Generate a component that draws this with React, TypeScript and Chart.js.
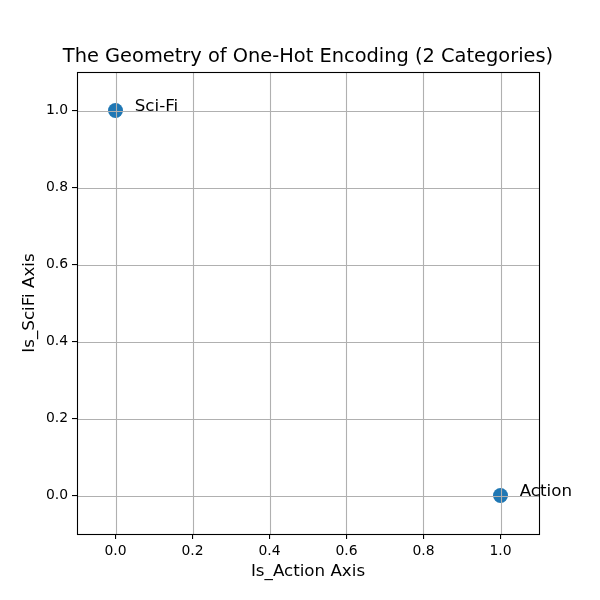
import React, { useEffect, useRef } from "react";
import { Chart, registerables } from "chart.js";

Chart.register(...registerables);

const labels = ["Action", "Sci-Fi"];
const isAction = [1, 0];
const isSciFi = [0, 1];
const labelOffsetX = [0.05, 0.05];
const tickValues = [0, 0.2, 0.4, 0.6, 0.8, 1.0];
const titleText = "The Geometry of One-Hot Encoding (2 Categories)";
const xTitle = "Is_Action Axis";
const yTitle = "Is_SciFi Axis";

const FONT = "'DejaVu Sans', sans-serif";

const overlay = {
  id: "overlay",
  afterDatasetsDraw(chart: any) {
    const { ctx, chartArea: a, scales } = chart;
    const xs = scales.x, ys = scales.y;
    ctx.save();
    // grid on top of markers (matplotlib style)
    ctx.strokeStyle = "#b0b0b0";
    ctx.lineWidth = 1.1;
    for (const v of tickValues) {
      const px = Math.round(xs.getPixelForValue(v)) + 0.5;
      ctx.beginPath(); ctx.moveTo(px, a.top); ctx.lineTo(px, a.bottom); ctx.stroke();
      const py = Math.round(ys.getPixelForValue(v)) + 0.5;
      ctx.beginPath(); ctx.moveTo(a.left, py); ctx.lineTo(a.right, py); ctx.stroke();
    }
    // frame
    ctx.strokeStyle = "#000";
    ctx.lineWidth = 1.1;
    ctx.strokeRect(Math.round(a.left) + 0.5, Math.round(a.top) + 0.5, Math.round(a.right - a.left), Math.round(a.bottom - a.top));
    // annotations
    ctx.fillStyle = "#000";
    ctx.font = `16.7px ${FONT}`;
    ctx.textAlign = "left";
    ctx.textBaseline = "alphabetic";
    labels.forEach((l, i) => {
      ctx.fillText(l, xs.getPixelForValue(isAction[i] + labelOffsetX[i]), ys.getPixelForValue(isSciFi[i]));
    });
    // title
    ctx.textAlign = "center";
    ctx.textBaseline = "middle";
    ctx.font = `19.4px ${FONT}`;
    ctx.fillText(titleText, (a.left + a.right) / 2, 57);
    // axis titles
    ctx.font = `16.7px ${FONT}`;
    ctx.fillText(xTitle, (a.left + a.right) / 2, 572);
    ctx.translate(30, (a.top + a.bottom) / 2);
    ctx.rotate(-Math.PI / 2);
    ctx.fillText(yTitle, 0, 0);
    ctx.restore();
  },
};

const axisOpts = (size: string) => ({
  type: "linear" as const,
  min: -0.1,
  max: 1.1,
  afterFit: (s: any) => { s[size] = size === "height" ? 66 : 77; },
  afterBuildTicks: (s: any) => { s.ticks = tickValues.map((v) => ({ value: v })); },
  grid: { color: "rgba(0,0,0,0)", lineWidth: 1.1, tickColor: "#000", tickLength: 5, drawTicks: true },
  border: { display: false },
  ticks: {
    includeBounds: false,
    padding: 4,
    color: "#000",
    font: { family: FONT, size: 13.9 },
    callback: (v: any) => Number(v).toFixed(1),
  },
});

export default function App() {
  const ref = useRef<HTMLCanvasElement>(null);
  useEffect(() => {
    document.body.style.margin = "0";
    const chart = new Chart(ref.current!, {
      type: "scatter",
      data: {
        datasets: [
          {
            data: labels.map((_, i) => ({ x: isAction[i], y: isSciFi[i] })),
            backgroundColor: "#1f77b4",
            borderWidth: 0,
            pointRadius: 7.5,
          },
        ],
      },
      options: {
        animation: false,
        responsive: false,
        layout: { padding: { top: 72, right: 61, left: 0, bottom: 0 } },
        plugins: { legend: { display: false }, tooltip: { enabled: false }, title: { display: false } },
        scales: {
          x: axisOpts("height"),
          y: axisOpts("width"),
        },
      },
      plugins: [overlay],
    });
    return () => chart.destroy();
  }, []);
  return (
    <div style={{ position: "absolute", left: 0, top: 0, width: 600, height: 600, background: "#fff" }}>
      <canvas ref={ref} width={600} height={600} style={{ width: 600, height: 600 }} />
    </div>
  );
}
